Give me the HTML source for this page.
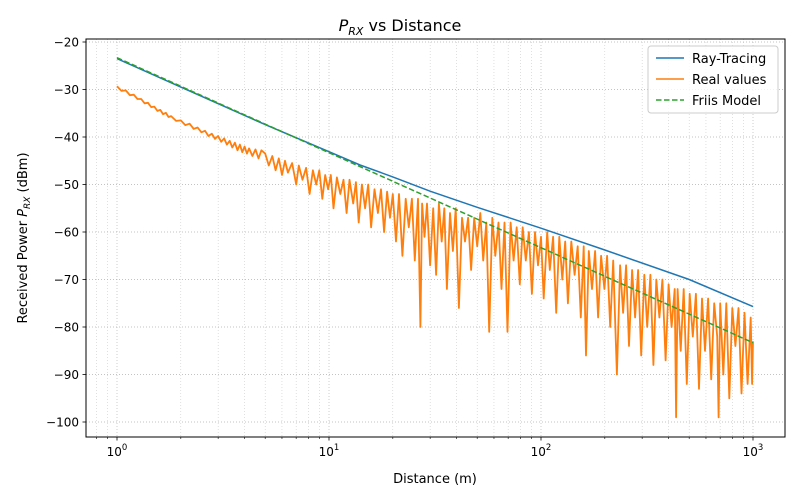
<!DOCTYPE html>
<html><head><meta charset="utf-8"><style>
body{margin:0;background:#fff;}
svg{display:block;font-family:"DejaVu Sans","Liberation Sans",sans-serif;}
</style></head><body>
<svg id="chart" width="800" height="500" xmlns="http://www.w3.org/2000/svg">
<rect width="800" height="500" fill="#fff"/>
<g id="grid"></g>
<g id="series"></g>
<rect x="86" y="39" width="699" height="398" fill="none" stroke="#000" stroke-width="1"/>
<g id="axes"></g>
<text x="400" y="31" text-anchor="middle" font-size="16"><tspan font-style="italic">P</tspan><tspan font-style="italic" font-size="11" dy="4">RX</tspan><tspan dy="-4"> vs Distance</tspan></text>
<text x="435" y="483" text-anchor="middle" font-size="13">Distance (m)</text>
<text transform="translate(27,238) rotate(-90)" text-anchor="middle" font-size="13">Received Power <tspan font-style="italic">P</tspan><tspan font-style="italic" font-size="9" dy="3">RX</tspan><tspan dy="-3"> (dBm)</tspan></text>
<g>
<rect x="648" y="46" width="130" height="67" rx="3" fill="#fff" fill-opacity="0.8" stroke="#ccc"/>
<line x1="656" y1="58" x2="684" y2="58" stroke="#1f77b4" stroke-width="1.5"/>
<text x="692" y="63" font-size="13">Ray-Tracing</text>
<line x1="656" y1="79" x2="684" y2="79" stroke="#ff7f0e" stroke-width="1.5"/>
<text x="692" y="84" font-size="13">Real values</text>
<line x1="656" y1="100" x2="684" y2="100" stroke="#2ca02c" stroke-width="1.5" stroke-dasharray="5.5,2.5"/>
<text x="692" y="105" font-size="13">Friis Model</text>
</g>
</svg>
<script>
const xTicks=[1,10,100,1000];
const xTickExp=["0","1","2","3"];
const yTicks=[-20,-30,-40,-50,-60,-70,-80,-90,-100];
const rayD=[1,2,5,10,14,20,30,50,100,200,500,1000];
const rayV=[-23.5,-29.5,-37.4,-43.1,-45.9,-48.4,-51.4,-54.8,-59.2,-63.8,-70.0,-75.7];
const friisD=[1,1000];
const friisV=[-23.3,-83.3];
const realD=[1,1.05,1.1,1.15,1.2,1.25,1.3,1.35,1.4,1.45,1.5,1.55,1.6,1.65,1.7,1.75,1.8,1.9,2,2.1,2.2,2.3,2.4,2.5,2.6,2.7,2.8,2.9,3,3.1,3.2,3.3,3.4,3.5,3.6,3.7,3.8,3.9,4,4.1,4.2,4.35,4.5,4.65,4.8,
5,5.2,5.4,5.6,5.8,6,6.2,6.4,6.7,7,7.2,7.5,7.8,8.1,8.4,8.7,9,9.3,9.6,9.9,10.2,10.5,10.9,11.3,11.7,12.1,12.5,13,13.4,13.8,14.3,14.8,15.3,15.8,16.4,17,17.6,18.2,18.8,19.4,20,20.7,21.4,22.2,23,23.8,24.6,25.4,26.3,27,27.5,28.2,29,30,31,32,33,34,35,36,37.2,38.4,39.6,41,42.4,43.8,45.3,46.8,48.4,50,51.7,53.4,55.2,57,58.9,60.9,63,65.1,67.3,69.5,71.9,74.3,76.8,79.4,82,84.8,87.7,90.6,93.7,96.8,100,103,107,110,114,118,122,126,130,134,139,144,149,154,159,163,168,174,180,186,192,199,205,212,219,228,236,244,252,260,269,278,287,297,307,317,328,339,350,362,374,387,400,413,427,434,441,456,471,487,503,520,538,556,575,594,614,635,656,678,688,700,724,748,773,799,826,854,883,912,943,975,990,1000];
const realV=[-29.3,-30.3,-30.2,-31.2,-31.1,-32,-32,-32.9,-32.8,-33.7,-33.6,-34.5,-34.3,-35.2,-34.9,-35.8,-35.6,-36.6,-36.5,-37.5,-37.2,-38.3,-38,-39,-38.7,-39.8,-39.3,-40.4,-39.8,-41,-40.3,-41.6,-40.8,-42.2,-41.2,-42.8,-41.6,-43.2,-42,-43.5,-42.4,-44,-42.6,-44.5,-42.8,
-43.5,-46,-44,-47,-44.5,-48,-45,-47.5,-45.5,-50,-46,-49,-46.5,-52,-47,-50,-47,-53,-48,-51,-48,-55,-48.5,-52,-49,-56,-49,-54,-49.5,-58,-50,-55,-50,-59,-51,-56,-51,-60,-51.5,-57,-52,-62,-52,-65,-53,-59,-53,-66,-53,-80,-54,-61,-54,-67,-55,-69,-54,-62,-55,-72,-56,-64,-55,-76,-57,-62,-57,-68,-57,-63,-56,-66,-58,-81,-57,-65,-58,-72,-58,-81,-58,-66,-59,-71,-59,-66,-60,-73,-60,-67,-61,-74,-60,-68,-61,-77,-61,-70,-62,-75,-62,-69,-63,-78,-63,-86,-64,-72,-64,-78,-65,-72,-65,-80,-66,-90,-67,-77,-67,-84,-68,-78,-68,-86,-69,-80,-69,-88,-70,-78,-70,-87,-71,-80,-72,-99,-72,-85,-72,-92,-73,-82,-73,-93,-74,-85,-74,-91,-75,-82,-99,-75,-90,-75,-95,-76,-84,-76,-94,-77,-92,-78,-92,-83];
const NS="http://www.w3.org/2000/svg";
const L=86,R=785,T=39,B=437;
const xmin=-31/212, xmax=(R-117)/212;
function sx(d){return L+(Math.log10(d)-xmin)/(xmax-xmin)*(R-L);}
function sy(v){return 42+(-20-v)*4.75;}
function mk(tag,attrs,parent){const e=document.createElementNS(NS,tag);for(const k in attrs)e.setAttribute(k,attrs[k]);parent.appendChild(e);return e;}
const grid=document.getElementById('grid'),axes=document.getElementById('axes'),series=document.getElementById('series');
for(let e=-1;e<=3;e++){for(let m=1;m<10;m++){const d=m*Math.pow(10,e);const x=sx(d);if(x<L||x>R)continue;
const g=mk('line',{x1:x,x2:x,y1:T,y2:B,stroke:'#b0b0b0','stroke-width':m==1?0.8:0.5,'stroke-dasharray':'1,2','stroke-opacity':0.8},grid);

const t=mk('line',{x1:x,x2:x,y1:B,y2:B+(m==1?3.5:2),stroke:'#000','stroke-width':m==1?0.8:0.6},axes);
}}
xTicks.forEach((d,i)=>{const tx=mk('text',{x:sx(d),y:B+19,'text-anchor':'middle','font-size':12},axes);

tx.innerHTML='10<tspan font-size="8.5" dy="-6">'+xTickExp[i]+'</tspan>';});
yTicks.forEach(v=>{const y=sy(v);
const g=mk('line',{x1:L,x2:R,y1:y,y2:y,stroke:'#b0b0b0','stroke-width':0.8,'stroke-dasharray':'1,2'},grid);

const t=mk('line',{x1:L-3.5,x2:L,y1:y,y2:y,stroke:'#000','stroke-width':0.8},axes);

const tx=mk('text',{x:L-7,y:y+4.5,'text-anchor':'end','font-size':12},axes);

tx.textContent='\u2212'+Math.abs(v);});
function pts(D,V){return D.map((d,i)=>sx(d).toFixed(1)+','+sy(V[i]).toFixed(1)).join(' ');}
const pr=mk('polyline',{points:pts(realD,realV),fill:'none',stroke:'#ff7f0e','stroke-width':1.8,'stroke-linejoin':'round'},series);

const pt=mk('polyline',{points:pts(rayD,rayV),fill:'none',stroke:'#1f77b4','stroke-width':1.5},series);

const pf=mk('polyline',{points:pts(friisD,friisV),fill:'none',stroke:'#2ca02c','stroke-width':1.5,'stroke-dasharray':'5.5,2.5'},series);

</script>
</body></html>
